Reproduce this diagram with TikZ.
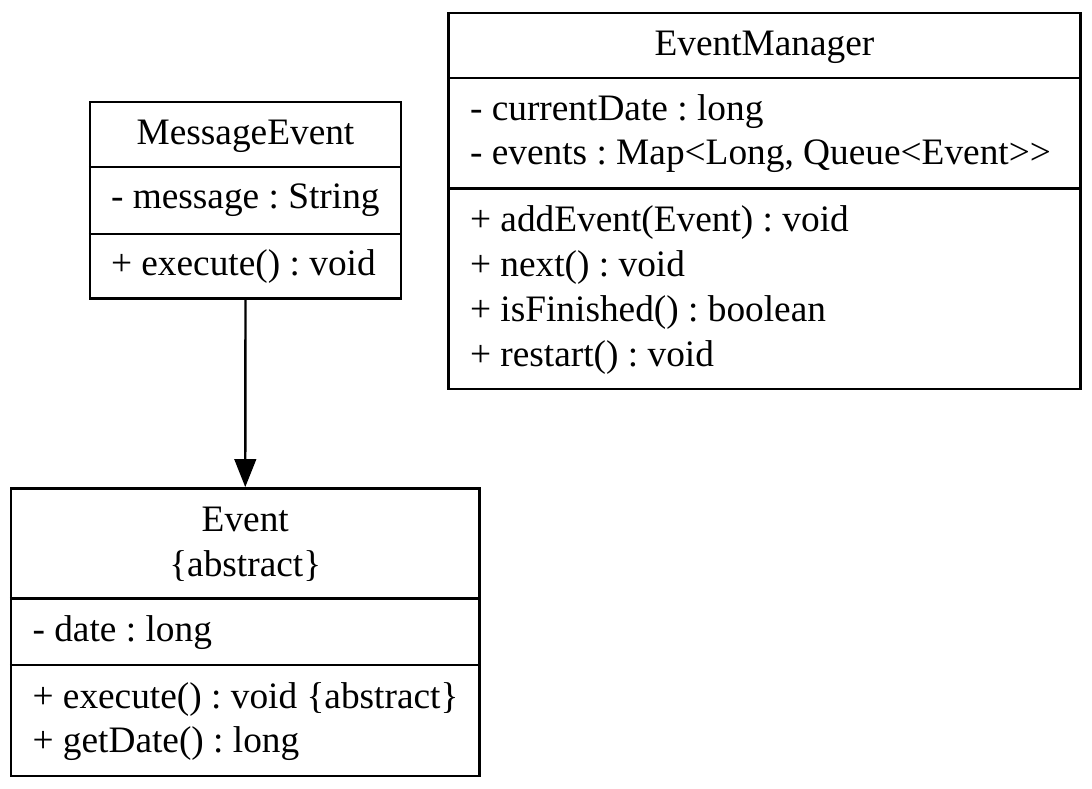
\documentclass[tikz,border=0pt]{standalone}
\usepackage{fontspec}
\setmainfont{Liberation Serif}
\usetikzlibrary{arrows.meta,fit}
\frenchspacing
\begin{document}
\frenchspacing
\begin{tikzpicture}[x=0.375pt,y=-0.375pt,
  umlbox/.style={draw, line width=0.9pt, inner sep=0pt},
  sepline/.style={line width=0.9pt},
  ltext/.style={anchor=base west, inner sep=0pt, font=\fontsize{14pt}{16.8pt}\selectfont},
  ctext/.style={anchor=base, inner sep=0pt, font=\fontsize{14pt}{16.8pt}\selectfont},
  inherit/.style={line width=0.9pt, -{Triangle[length=10.5pt,width=8.1pt]}}]
\path[use as bounding box, fill=white] (0,0) rectangle (1092,788);

% MessageEvent
\node[umlbox, fit={(90,102) (401,298.5)}] (me) {};
\draw[sepline] (me.west |- 0,167) -- (me.east |- 0,167);
\draw[sepline] (me.west |- 0,234) -- (me.east |- 0,234);
\node[ctext] (meTitle) at (245.5,144.5) {MessageEvent};
\node[ltext] (meA1) at (110.5,208) {- message : String};
\node[ltext] (meM1) at (110.5,275) {+ execute() : void};

% EventManager
\node[umlbox, fit={(448.3,12.7) (1080.5,388.8)}] (em) {};
\draw[sepline] (em.west |- 0,77.7) -- (em.east |- 0,77.7);
\draw[sepline] (em.west |- 0,188.5) -- (em.east |- 0,188.5);
\node[ctext] (emTitle) at (764.4,55.5) {EventManager};
\node[ltext] (emA1) at (469.5,120) {- currentDate : long};
\node[ltext] (emA2) at (469.5,164.5) {- events : Map<Long, Queue<Event>\kern0pt>};
\node[ltext] (emM1) at (469.5,231) {+ addEvent(Event) : void};
\node[ltext] (emM2) at (469.5,276) {+ next() : void};
\node[ltext] (emM3) at (469.5,321) {+ isFinished() : boolean};
\node[ltext] (emM4) at (469.5,366) {+ restart() : void};

% Event
\node[umlbox, fit={(11,488.3) (479.5,776)}] (ev) {};
\draw[sepline] (ev.west |- 0,598.5) -- (ev.east |- 0,598.5);
\draw[sepline] (ev.west |- 0,665) -- (ev.east |- 0,665);
\node[ctext] (evTitle1) at (245.25,531.5) {Event};
\node[ctext] (evTitle2) at (245.25,576.5) {\{abstract\}};
\node[ltext] (evA1) at (32,641.5) {- date : long};
\node[ltext] (evM1) at (32,708) {+ execute() : void \{abstract\}};
\node[ltext] (evM2) at (32,752.5) {+ getDate() : long};

% generalisation
\draw[inherit] (me.south) -- (ev.north);
\end{tikzpicture}
\end{document}
